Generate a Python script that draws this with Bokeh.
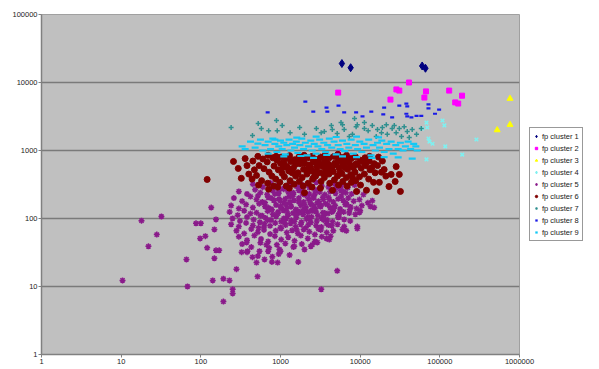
from bokeh.plotting import figure
from bokeh.models import Range1d, FixedTicker, PrintfTickFormatter, Legend, LegendItem
from bokeh.embed import file_html
from bokeh.resources import INLINE

labels = ["fp cluster 1", "fp cluster 2", "fp cluster 3", "fp cluster 4", "fp cluster 5",
          "fp cluster 6", "fp cluster 7", "fp cluster 8", "fp cluster 9"]
x_ticks = [1, 10, 100, 1000, 10000, 100000, 1000000]
y_ticks = [1, 10, 100, 1000, 10000, 100000]

# cluster 1
x1 = [5900, 7600, 60000, 66000]
y1 = [19000, 16500, 17500, 16200]
# cluster 2
x2 = [5300, 24000, 28500, 31000, 41000, 64000, 67000, 131000, 156000, 170000, 190000]
y2 = [7100, 5600, 7900, 7600, 10000, 6000, 7400, 7600, 5100, 4900, 6400]
# cluster 3
x3 = [525000, 760000, 760000]
y3 = [2000, 2400, 5800]
# cluster 4
x4 = [60000, 68000, 69500, 72000, 81000, 108000, 114000, 117000, 191000, 288000, 68000, 74000]
y4 = [2100, 2570, 2180, 1500, 1260, 2760, 2340, 1150, 870, 1450, 740, 1350]
# cluster 5
x5 = [450, 600, 750, 900, 1100, 1300, 1600, 1900, 2300, 2800, 3300, 4000, 4800, 5800, 7000, 8500,
      300, 380, 480, 560, 680, 800, 950, 1100, 1250, 1450, 1700, 2000, 2300, 2700, 3100, 3600, 4200, 4900, 5700, 6600, 7800, 9200, 11000,
      260, 330, 420, 500, 590, 700, 820, 960, 1100, 1280, 1480, 1700, 1950, 2250, 2600, 3000, 3450, 4000, 4600, 5300, 6100, 7100, 8300, 9800, 12500,
      240, 300, 370, 450, 540, 640, 750, 880, 1020, 1180, 1360, 1560, 1800, 2080, 2400, 2750, 3150, 3650, 4200, 4850, 5600, 6500, 7600, 9000, 10500, 13500,
      230, 290, 350, 420, 500, 590, 690, 800, 930, 1080, 1250, 1440, 1660, 1920, 2200, 2550, 2950, 3400, 3950, 4550, 5300, 6200, 7300, 8700, 10000,
      250, 310, 380, 460, 550, 650, 760, 880, 1020, 1180, 1370, 1580, 1830, 2120, 2450, 2850, 3300, 3850, 4500, 5300, 6300, 7500,
      240, 300, 370, 450, 530, 630, 740, 860, 1000, 1160, 1340, 1550, 1800, 2080, 2400, 2800, 3250, 3800, 4400, 5200, 6300,
      280, 350, 430, 520, 620, 740, 870, 1020, 1200, 1400, 1650, 1950, 2300, 2700, 3200, 3800, 4600,
      300, 380, 470, 570, 700, 850, 1020, 1250, 1500, 1800, 2200, 2700, 3300, 4100,
      330, 430, 560, 720, 900, 1150, 1450, 1850, 2400,
      380, 520, 700, 950, 1300,
      1000, 1200, 1400, 1700, 2000, 2400, 2900, 3500, 1100, 1500, 1900, 2600, 3200, 1300, 1800, 2200, 2800, 700, 850, 4500, 5500, 6800,
      520, 640, 780, 960, 1150, 1350, 1550, 1750, 2050, 2350, 2650, 3000, 3400, 3900, 4400, 5000, 5800, 6600, 7400,
      560, 690, 840, 1000, 1220, 1450, 1700, 2000, 2350, 2700, 3100, 3600, 4100, 4700, 5400, 6200,
      620, 760, 930, 1120, 1320, 1600, 1900, 2250, 2600, 3000, 3500, 4000,
      18, 32, 28, 22, 10.4, 68, 66, 87, 100, 98, 114, 135, 141, 192, 229, 251, 251, 192, 280, 148, 120, 155, 170, 148, 155,
      515, 3250, 5150, 1670, 920, 1490, 2000, 2500, 2900, 3770, 4250, 6000, 6700, 9200, 9200, 15000, 14200, 9800,
      630, 790, 780, 500, 445, 970, 1000, 665, 545, 385, 325, 375]
y5 = [320, 290, 335, 300, 280, 330, 295, 310, 285, 340, 300, 290, 320, 300, 285, 310,
      250, 230, 265, 240, 225, 255, 235, 270, 245, 225, 260, 240, 230, 265, 245, 225, 250, 235, 260, 240, 230, 250, 225,
      200, 180, 210, 190, 175, 205, 185, 195, 170, 210, 185, 200, 175, 195, 210, 180, 190, 205, 175, 195, 185, 200, 180, 190, 170,
      155, 140, 160, 145, 165, 150, 138, 158, 145, 162, 150, 136, 155, 145, 160, 140, 152, 165, 145, 155, 138, 160, 148, 140, 155, 150,
      125, 112, 130, 118, 122, 110, 128, 115, 125, 132, 112, 120, 128, 115, 124, 130, 110, 122, 118, 128, 112, 125, 120, 115, 130,
      100, 92, 105, 96, 88, 102, 95, 107, 90, 100, 94, 104, 88, 98, 106, 92, 100, 95, 90, 104, 97, 92,
      82, 76, 86, 79, 73, 84, 78, 86, 74, 80, 85, 76, 82, 73, 87, 79, 75, 84, 78, 82, 76,
      66, 60, 70, 63, 68, 59, 66, 71, 62, 67, 60, 69, 64, 58, 68, 62, 66,
      54, 48, 56, 50, 46, 55, 49, 53, 47, 56, 51, 46, 54, 49,
      42, 38, 44, 37, 41, 43, 38, 42, 39,
      32, 28, 33, 30, 29,
      180, 140, 210, 120, 160, 130, 170, 110, 100, 90, 230, 200, 150, 250, 270, 105, 125, 145, 230, 140, 120, 160,
      215, 170, 135, 260, 195, 150, 115, 285, 220, 175, 140, 260, 205, 160, 125, 280, 215, 170, 135,
      110, 95, 185, 150, 120, 240, 175, 135, 100, 230, 165, 120, 190, 140, 105, 250,
      75, 200, 118, 88, 175, 68, 130, 82, 155, 70, 95, 80,
      93, 107, 58, 39, 12.3, 10, 25, 85, 85, 51, 55, 145, 12.3, 13, 12.3, 9.1, 7.9, 6.0, 18, 26, 37, 34, 34, 69, 97,
      14, 9.1, 17, 23, 22.5, 39, 35, 41, 44.5, 51, 55, 69, 66, 76, 71, 145, 183, 123,
      25, 27.5, 23, 22.5, 27, 35, 33, 41, 33, 33, 32, 44.5]
# cluster 6
x6 = [450, 470, 440, 520, 540, 500, 530, 600, 620, 580, 700, 680, 720, 690, 710, 800, 830, 780, 820,
      900, 940, 870, 920, 880, 1000, 1050, 980, 1020, 1070, 1150, 1200, 1120, 1180, 1300, 1340, 1270, 1320, 1290,
      1500, 1450, 1550, 1480, 1530, 1700, 1750, 1660, 1720, 1900, 1950, 1870, 1930, 1980, 2200, 2250, 2150, 2230, 2180,
      2500, 2560, 2450, 2530, 2480, 2800, 2870, 2760, 2840, 3200, 3280, 3150, 3230, 3170, 3600, 3700, 3550, 3650,
      4100, 4200, 4050, 4150, 4000, 4700, 4800, 4600, 4750, 5300, 5400, 5200, 5350, 5250, 6000, 6150, 5900, 6050,
      6800, 6950, 6700, 6850, 6750, 7700, 7850, 7600, 7750, 8700, 8900, 8600, 8800, 10000, 10300, 9800, 10100,
      11500, 11800, 11300, 13000, 13300, 12800, 13100, 15000, 15400, 14700,
      120, 257, 295, 322, 31000, 32000, 27500, 23000, 17400, 16000, 20000, 28300, 24500, 19000, 380, 400, 360, 17000, 21000, 12000, 9000, 4500, 2000,
      1100, 1400, 1600, 2000, 2400, 2700, 3000, 3400, 3900, 4400, 5000, 5700, 6400, 7300, 8200, 9300, 1250, 2600, 3500, 5600, 8000, 11000, 14000, 16500, 18500]
y6 = [700, 520, 380, 820, 600, 430, 310, 750, 540, 360, 850, 680, 480, 330, 270, 780, 590, 420, 300,
      720, 520, 380, 290, 820, 650, 460, 340, 800, 560, 760, 580, 410, 300, 840, 690, 500, 360, 280,
      730, 550, 420, 320, 620, 800, 640, 470, 350, 700, 530, 400, 300, 850, 780, 610, 450, 330, 520,
      820, 680, 500, 380, 290, 740, 560, 420, 640, 800, 620, 470, 350, 280, 700, 540, 400, 860,
      780, 600, 450, 330, 520, 820, 650, 490, 370, 730, 560, 420, 310, 880, 790, 610, 460, 350,
      700, 530, 400, 300, 850, 760, 590, 440, 340, 810, 640, 480, 360, 720, 550, 410, 310,
      780, 600, 450, 700, 520, 380, 820, 640, 470, 340,
      375, 690, 545, 390, 445, 250, 350, 295, 340, 250, 525, 580, 445, 700, 600, 450, 760, 800, 420, 260, 250, 260, 240,
      650, 470, 700, 650, 560, 470, 720, 580, 650, 550, 620, 700, 560, 650, 560, 620, 550, 400, 460, 480, 400, 680, 560, 600, 480]
# cluster 7
x7 = [240, 445, 525, 710, 890, 910, 1050, 1320, 2000, 2820, 3240, 3550, 4350, 4470, 5150, 5750, 6300, 7300, 8000,
      8900, 9200, 11300, 11300, 12600, 14200, 15900, 16500, 18500, 19000, 21300, 21900, 25200, 26800, 28300, 31000,
      33000, 35700, 39000, 41300, 45000, 51000, 58500, 8500, 6000, 575, 1740]
y7 = [2180, 1660, 2500, 1960, 2760, 1960, 2340, 1830, 1730, 2100, 1830, 1900, 2340, 2040, 1780, 2570, 2040, 1610, 1730,
      2240, 2400, 2570, 2100, 1960, 2340, 1610, 2040, 1830, 2180, 2400, 1730, 2100, 2340, 1830, 2100,
      1610, 2240, 1900, 1550, 2040, 1730, 2100, 2950, 2400, 2100, 2180]
# cluster 8
x8 = [690, 2050, 2580, 3780, 3870, 5350, 6300, 8900, 10700, 13800, 20000, 19500, 25200, 31000, 38000, 39000,
      38000, 39000, 44000, 51000, 58500, 72000, 72000, 87000, 98000]
y8 = [3630, 5250, 3730, 4270, 3730, 4570, 3630, 3630, 3170, 3730, 4270, 3390, 3080, 4570, 4900, 4460,
      3470, 3170, 3080, 3240, 3240, 4780, 4170, 3470, 3980]
# cluster 9
x9 = [330, 360, 420, 480, 520, 560, 600, 640, 700, 750, 800, 850, 900, 950, 1000, 1050, 1100, 1150, 1200, 1280,
      1350, 1420, 1500, 1580, 1650, 1750, 1850, 1950, 2050, 2150, 2250, 2400, 2500, 2650, 2800, 2950, 3100, 3300,
      3500, 3700, 3900, 4100, 4400, 4700, 5000, 5300, 5600, 6000, 6400, 6800, 7200, 7700, 8200, 8700, 9300, 9900,
      10500, 11200, 12000, 12800, 13700, 14500, 15500, 16500, 17500, 18700, 20000, 21500, 23000, 24500, 26000, 28000,
      30000, 32000, 34500, 37000, 40000, 43000, 47000, 52000, 50000, 20000, 14000, 9000, 30000, 45000, 6000, 3800,
      2600, 1800, 1100, 1600, 2800, 5000, 9000, 17000, 700, 850]
y9 = [1150, 1050, 1350, 1100, 1260, 1450, 1000, 1200, 1350, 1050, 1500, 1250, 950, 1150, 1400, 1050, 1300, 880, 1200, 1450,
      1000, 1250, 1100, 1350, 920, 1200, 1500, 1050, 1300, 850, 1150, 1400, 1000, 1250, 900, 1150, 1450, 1050,
      1300, 950, 1200, 1500, 1100, 1350, 880, 1200, 1050, 1400, 980, 1250, 1100, 1450, 900, 1200, 1050, 1350,
      950, 1250, 1100, 1450, 850, 1200, 1000, 1300, 1100, 1400, 950, 1250, 1050, 1350, 900, 1200,
      1050, 1300, 1000, 1150, 1350, 1050, 1250, 1000, 1150, 800, 780, 800, 790, 760, 820, 860,
      780, 830, 820, 1550, 1600, 1580, 1600, 1560, 900, 1450]

FONT = "Liberation Sans"

p = figure(frame_width=478, frame_height=340, x_axis_type="log", y_axis_type="log",
           x_range=Range1d(1, 1000000), y_range=Range1d(1, 100000),
           output_backend="svg", toolbar_location=None,
           min_border_left=41, min_border_right=0, min_border_top=14, min_border_bottom=13)
p.background_fill_color = "#c0c0c0"
p.border_fill_color = "white"
p.outline_line_color = "#a0a0a0"
p.outline_line_width = 1

p.xgrid.visible = False
p.ygrid.ticker = FixedTicker(ticks=[10, 100, 1000, 10000])
p.ygrid.grid_line_color = "#7a7a7a"
p.ygrid.grid_line_width = 1.6

for ax, ticks in ((p.xaxis, x_ticks), (p.yaxis, y_ticks)):
    ax.ticker = FixedTicker(ticks=ticks)
    ax.formatter = PrintfTickFormatter(format="%d")
    ax.axis_line_color = "#808080"
    ax.axis_line_width = 1.5
    ax.major_tick_line_color = "#808080"
    ax.major_tick_out = 3
    ax.major_tick_in = 0
    ax.minor_tick_line_color = None
    ax.major_label_text_font = FONT
    ax.major_label_text_font_size = "7.5px"
    ax.major_label_text_color = "#222222"
    ax.major_label_standoff = 1

specs = [
    (x1, y1, "diamond", 8, "#000080", "#000080", 1),
    (x2, y2, "square", 5, "#ff00ff", "#ff00ff", 1),
    (x3, y3, "triangle", 6, "#ffff00", "#ffff00", 1),
    (x4, y4, "x", 5, None, "#7ff0f0", 1.5),
    (x5, y5, "asterisk", 6, None, "#8a1a8a", 1.5),
    (x6, y6, "circle", 6, "#800000", "#800000", 1),
    (x7, y7, "cross", 5, None, "#2f8f8f", 1.5),
    (x8, y8, "dash", 4, None, "#1a1ae6", 2.2),
    (x9, y9, "dash", 7, None, "#12c8f5", 2.2),
]
items = []
for (xs, ys, mk, sz, fc, lc, lw), lab in zip(specs, labels):
    r = p.scatter(xs, ys, marker=mk, size=sz, fill_color=fc, line_color=lc, line_width=lw)
    items.append(LegendItem(label=lab, renderers=[r]))

legend = Legend(items=items, location="left")
legend.border_line_color = "#333333"
legend.border_line_width = 1
legend.background_fill_color = "white"
legend.background_fill_alpha = 1
legend.label_text_font = FONT
legend.label_text_font_size = "7.5px"
legend.label_text_color = "#222222"
legend.label_height = 10
legend.glyph_height = 6
legend.glyph_width = 6
legend.spacing = 2
legend.padding = 3
legend.margin = 10
legend.label_standoff = 3
p.add_layout(legend, "right")

open("out.html", "w").write(file_html(p, INLINE))
